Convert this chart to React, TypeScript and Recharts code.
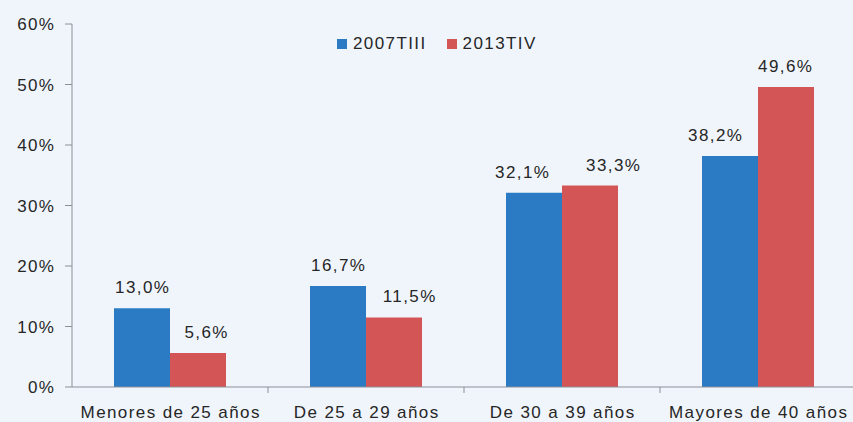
import React from 'react';
import {
  BarChart,
  Bar,
  XAxis,
  YAxis,
  Legend,
  LabelList,
} from 'recharts';

// ---------------------------------------------------------------------------
// Data
// ---------------------------------------------------------------------------

const categories = [
  'Menores de 25 años',
  'De 25 a 29 años',
  'De 30 a 39 años',
  'Mayores de 40 años',
];
const serie2007 = [13.0, 16.7, 32.1, 38.2];
const serie2013 = [5.6, 11.5, 33.3, 49.6];
const yTicks = [0, 10, 20, 30, 40, 50, 60];

// label nudges (px) as placed in the original figure
const nudge2007 = [0, 0, -12, -15];
const nudge2013 = [8, 15, 23, -1];

const SERIES = [
  { key: 'v2007', name: '2007TIII', color: '#2a7bc4', nudge: nudge2007 },
  { key: 'v2013', name: '2013TIV', color: '#d45555', nudge: nudge2013 },
];

const chartData = categories.map((c, i) => ({
  categoria: c,
  v2007: serie2007[i],
  v2013: serie2013[i],
}));

// ---------------------------------------------------------------------------
// Styles
// ---------------------------------------------------------------------------

const BG = '#f0f5fc';
const AXIS = '#8c9097';
const TEXT = '#262626';
const FONT = '"Liberation Sans", Arial, Helvetica, sans-serif';
const FONT_SIZE = 17;
const SPACING = 1.4;

const fmtPct = (v: number) => `${v.toFixed(1).replace('.', ',')}%`;

// ---------------------------------------------------------------------------
// Custom ticks / labels
// ---------------------------------------------------------------------------

function CategoryTick(props: any) {
  const { x, y, payload } = props;
  const half = payload?.offset ?? 0;
  return (
    <g>
      <line x1={x + half} x2={x + half} y1={y - 8} y2={y - 2} stroke={AXIS} strokeWidth={1} />
      <text
        x={x + SPACING / 2}
        y={y + 23}
        textAnchor="middle"
        fill={TEXT}
        fontSize={FONT_SIZE}
        fontFamily={FONT}
        letterSpacing={SPACING}
      >
        {payload.value}
      </text>
    </g>
  );
}

function PercentTick(props: any) {
  const { x, y, payload } = props;
  return (
    <text
      x={x + SPACING + 2}
      y={y}
      dy="0.36em"
      textAnchor="end"
      fill={TEXT}
      fontSize={FONT_SIZE}
      fontFamily={FONT}
      letterSpacing={SPACING}
    >
      {`${payload.value}%`}
    </text>
  );
}

function makeValueLabel(nudge: number[]) {
  return function ValueLabel(props: any) {
    const { x, y, width, value, index } = props;
    const dx = nudge[index] ?? 0;
    return (
      <text
        x={Number(x) + Number(width) / 2 + SPACING / 2 + dx}
        y={Number(y) - 15}
        textAnchor="middle"
        fill={TEXT}
        fontSize={FONT_SIZE}
        fontFamily={FONT}
        letterSpacing={SPACING}
      >
        {fmtPct(Number(value))}
      </text>
    );
  };
}

function LegendContent() {
  return (
    <div style={{ display: 'flex', alignItems: 'center', fontFamily: FONT, fontSize: FONT_SIZE, color: TEXT, letterSpacing: SPACING }}>
      {SERIES.map((s, i) => (
        <div key={s.key} style={{ display: 'flex', alignItems: 'center', marginRight: i === 0 ? 20 : 0 }}>
          <span style={{ width: 10, height: 10, background: s.color, display: 'inline-block', marginRight: 6 }} />
          <span>{s.name}</span>
        </div>
      ))}
    </div>
  );
}

// ---------------------------------------------------------------------------
// Component
// ---------------------------------------------------------------------------

export default function App() {
  return (
    <div
      style={{
        position: 'absolute',
        left: 0,
        top: 0,
        width: 853,
        height: 422,
        overflow: 'hidden',
        background: BG,
      }}
    >
      <BarChart
        width={860}
        height={422}
        data={chartData}
        margin={{ top: 24, right: 4, bottom: 0, left: 0 }}
        barSize={56}
        barGap={0}
      >
        <XAxis
          dataKey="categoria"
          type="category"
          height={35}
          stroke={AXIS}
          tickLine={false}
          tick={<CategoryTick />}
          interval={0}
          padding={{ left: 0, right: 0 }}
        />
        <YAxis
          type="number"
          domain={[0, 60]}
          ticks={yTicks}
          width={72}
          stroke={AXIS}
          tickSize={7}
          tickMargin={13}
          tick={<PercentTick />}
          interval={0}
        />
        <Legend
          layout="horizontal"
          verticalAlign="middle"
          align="center"
          content={<LegendContent />}
          wrapperStyle={{ top: 34, left: 337, width: 260, height: 20 }}
        />
        {SERIES.map((s) => {
          const Label = makeValueLabel(s.nudge);
          return (
            <Bar key={s.key} dataKey={s.key} name={s.name} fill={s.color} isAnimationActive={false}>
              <LabelList dataKey={s.key} content={<Label />} />
            </Bar>
          );
        })}
      </BarChart>
    </div>
  );
}
